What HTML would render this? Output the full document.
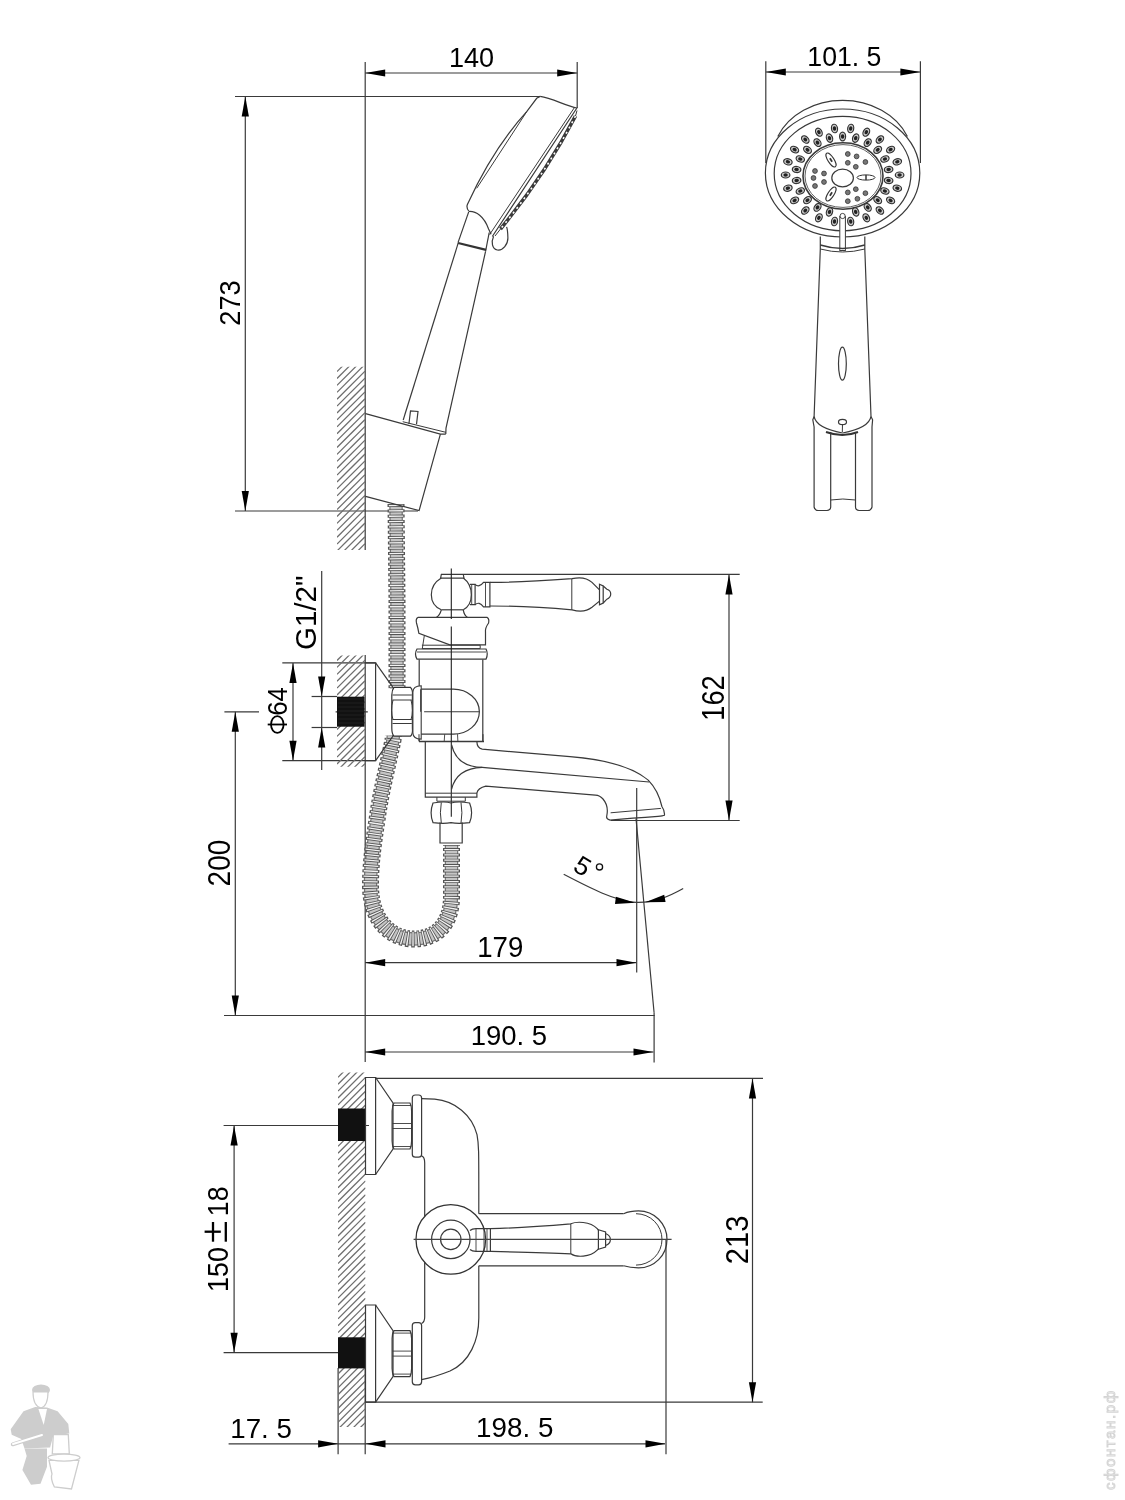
<!DOCTYPE html>
<html><head><meta charset="utf-8"><style>
html,body{margin:0;padding:0;background:#fff;}
svg{display:block;font-family:"Liberation Sans",sans-serif;will-change:transform;}
</style></head><body>
<svg width="1125" height="1500" viewBox="0 0 1125 1500">
<rect width="1125" height="1500" fill="#fff"/>
<line x1="365.2" y1="62.0" x2="365.2" y2="550.0" stroke="#3a3a3a" stroke-width="1.2"/>
<line x1="365.2" y1="655.0" x2="365.2" y2="1062.0" stroke="#3a3a3a" stroke-width="1.2"/>
<line x1="577.2" y1="62.0" x2="577.2" y2="108.0" stroke="#3a3a3a" stroke-width="1.2"/>
<line x1="365.2" y1="73.0" x2="577.2" y2="73.0" stroke="#3a3a3a" stroke-width="1.2"/>
<polygon points="365.2,73.0 385.2,69.4 385.2,76.6" fill="#000"/>
<polygon points="577.2,73.0 557.2,76.6 557.2,69.4" fill="#000"/>
<text transform="translate(448.97,66.73) scale(1.0126,1)" font-size="26.76" fill="#000">140</text>
<line x1="235.0" y1="96.5" x2="540.0" y2="96.5" stroke="#3a3a3a" stroke-width="1.2"/>
<line x1="235.0" y1="511.0" x2="418.0" y2="511.0" stroke="#3a3a3a" stroke-width="1.2"/>
<line x1="245.3" y1="96.5" x2="245.3" y2="511.0" stroke="#3a3a3a" stroke-width="1.2"/>
<polygon points="245.3,96.5 248.9,116.5 241.7,116.5" fill="#000"/>
<polygon points="245.3,511.0 241.7,491.0 248.9,491.0" fill="#000"/>
<text transform="translate(239.80,325.77) rotate(-90) scale(0.9066,1)" font-size="30.14" fill="#000">273</text>
<line x1="765.8" y1="61.3" x2="765.8" y2="163.0" stroke="#3a3a3a" stroke-width="1.2"/>
<line x1="920.4" y1="61.3" x2="920.4" y2="163.0" stroke="#3a3a3a" stroke-width="1.2"/>
<line x1="765.8" y1="72.0" x2="920.4" y2="72.0" stroke="#3a3a3a" stroke-width="1.2"/>
<polygon points="765.8,72.0 785.8,68.4 785.8,75.6" fill="#000"/>
<polygon points="920.4,72.0 900.4,75.6 900.4,68.4" fill="#000"/>
<text transform="translate(807.30,65.52) scale(0.9664,1)" font-size="27.61" fill="#000">101. 5</text>
<line x1="321.7" y1="571.0" x2="321.7" y2="770.0" stroke="#3a3a3a" stroke-width="1.2"/>
<polygon points="321.7,696.5 318.1,676.5 325.3,676.5" fill="#000"/>
<polygon points="321.7,727.5 325.3,747.5 318.1,747.5" fill="#000"/>
<line x1="311.6" y1="696.5" x2="337.0" y2="696.5" stroke="#3a3a3a" stroke-width="1.2"/>
<line x1="311.6" y1="727.5" x2="337.0" y2="727.5" stroke="#3a3a3a" stroke-width="1.2"/>
<text transform="translate(316.20,650.08) rotate(-90) scale(0.9771,1)" font-size="30.28" fill="#000">G1/2&quot;</text>
<line x1="282.3" y1="662.9" x2="375.6" y2="662.9" stroke="#3a3a3a" stroke-width="1.2"/>
<line x1="282.3" y1="760.7" x2="375.6" y2="760.7" stroke="#3a3a3a" stroke-width="1.2"/>
<line x1="293.0" y1="662.9" x2="293.0" y2="760.7" stroke="#3a3a3a" stroke-width="1.2"/>
<polygon points="293.0,662.9 296.6,682.9 289.4,682.9" fill="#000"/>
<polygon points="293.0,760.7 289.4,740.7 296.6,740.7" fill="#000"/>
<text transform="translate(286.73,715.79) rotate(-90) scale(0.9500,1)" font-size="27.18" fill="#000">64</text>
<ellipse cx="277.3" cy="724.5" rx="6.3" ry="8.4" stroke="#000" stroke-width="1.8" fill="none"/>
<line x1="267.7" y1="724.5" x2="287.0" y2="724.5" stroke="#000" stroke-width="1.8"/>
<line x1="224.4" y1="711.8" x2="259.0" y2="711.8" stroke="#3a3a3a" stroke-width="1.2"/>
<line x1="335.6" y1="711.8" x2="367.8" y2="711.8" stroke="#3a3a3a" stroke-width="1.2"/>
<line x1="224.0" y1="1015.5" x2="654.7" y2="1015.5" stroke="#3a3a3a" stroke-width="1.2"/>
<line x1="235.3" y1="711.8" x2="235.3" y2="1015.5" stroke="#3a3a3a" stroke-width="1.2"/>
<polygon points="235.3,711.8 238.9,731.8 231.7,731.8" fill="#000"/>
<polygon points="235.3,1015.5 231.7,995.5 238.9,995.5" fill="#000"/>
<text transform="translate(230.38,886.40) rotate(-90) scale(0.8738,1)" font-size="31.97" fill="#000">200</text>
<line x1="441.0" y1="574.4" x2="739.7" y2="574.4" stroke="#3a3a3a" stroke-width="1.2"/>
<line x1="611.0" y1="820.5" x2="739.7" y2="820.5" stroke="#3a3a3a" stroke-width="1.2"/>
<line x1="729.0" y1="574.4" x2="729.0" y2="820.5" stroke="#3a3a3a" stroke-width="1.2"/>
<polygon points="729.0,574.4 732.6,594.4 725.4,594.4" fill="#000"/>
<polygon points="729.0,820.5 725.4,800.5 732.6,800.5" fill="#000"/>
<text transform="translate(723.88,720.75) rotate(-90) scale(0.8644,1)" font-size="31.55" fill="#000">162</text>
<line x1="365.2" y1="962.7" x2="636.5" y2="962.7" stroke="#3a3a3a" stroke-width="1.2"/>
<polygon points="365.2,962.7 385.2,959.1 385.2,966.3" fill="#000"/>
<polygon points="636.5,962.7 616.5,966.3 616.5,959.1" fill="#000"/>
<line x1="636.7" y1="788.0" x2="636.7" y2="972.5" stroke="#3a3a3a" stroke-width="1.2"/>
<text transform="translate(477.23,957.00) scale(0.9213,1)" font-size="30.00" fill="#000">179</text>
<line x1="365.2" y1="1052.0" x2="653.5" y2="1052.0" stroke="#3a3a3a" stroke-width="1.2"/>
<polygon points="365.2,1052.0 385.2,1048.4 385.2,1055.6" fill="#000"/>
<polygon points="653.5,1052.0 633.5,1055.6 633.5,1048.4" fill="#000"/>
<line x1="636.0" y1="818.5" x2="654.1" y2="1012.8" stroke="#3a3a3a" stroke-width="1.2"/>
<line x1="654.1" y1="1012.8" x2="654.1" y2="1062.4" stroke="#3a3a3a" stroke-width="1.2"/>
<text transform="translate(470.64,1045.02) scale(0.9764,1)" font-size="28.17" fill="#000">190. 5</text>
<path d="M563.7,874.3 C590,888 615,901 636,902.3 C655,903 670,896 683.2,888.6" stroke="#3a3a3a" stroke-width="1.2" fill="none" />
<polygon points="635.3,902.7 615.0,903.9 615.9,896.7" fill="#000"/>
<polygon points="645.3,902.3 664.2,894.8 665.6,901.9" fill="#000"/>
<text transform="translate(582.4,866) rotate(31) translate(-7.2,8.9)" font-size="26" fill="#000">5</text>
<circle cx="599.5" cy="866.9" r="3.1" stroke="#111" stroke-width="1.3" fill="none"/>
<line x1="375.5" y1="1078.4" x2="763.0" y2="1078.4" stroke="#3a3a3a" stroke-width="1.2"/>
<line x1="365.5" y1="1402.2" x2="762.7" y2="1402.2" stroke="#3a3a3a" stroke-width="1.2"/>
<line x1="752.5" y1="1078.4" x2="752.5" y2="1402.2" stroke="#3a3a3a" stroke-width="1.2"/>
<polygon points="752.5,1078.4 756.1,1098.4 748.9,1098.4" fill="#000"/>
<polygon points="752.5,1402.2 748.9,1382.2 756.1,1382.2" fill="#000"/>
<text transform="translate(747.69,1264.16) rotate(-90) scale(0.9394,1)" font-size="30.99" fill="#000">213</text>
<line x1="223.6" y1="1125.5" x2="369.0" y2="1125.5" stroke="#3a3a3a" stroke-width="1.2"/>
<line x1="223.6" y1="1352.7" x2="338.0" y2="1352.7" stroke="#3a3a3a" stroke-width="1.2"/>
<line x1="234.1" y1="1125.5" x2="234.1" y2="1352.7" stroke="#3a3a3a" stroke-width="1.2"/>
<polygon points="234.1,1125.5 237.7,1145.5 230.5,1145.5" fill="#000"/>
<polygon points="234.1,1352.7 230.5,1332.7 237.7,1332.7" fill="#000"/>
<text transform="translate(228.00,1292.02) rotate(-90) scale(0.8968,1)" font-size="30.00" fill="#000">150</text>
<text transform="translate(228.00,1216.21) rotate(-90) scale(0.8945,1)" font-size="30.00" fill="#000">18</text>
<line x1="213.0" y1="1222.0" x2="213.0" y2="1241.7" stroke="#000" stroke-width="2.3"/>
<line x1="204.6" y1="1231.7" x2="220.8" y2="1231.7" stroke="#000" stroke-width="2.3"/>
<line x1="225.8" y1="1222.0" x2="225.8" y2="1241.7" stroke="#000" stroke-width="2.3"/>
<line x1="228.6" y1="1443.8" x2="665.0" y2="1443.8" stroke="#3a3a3a" stroke-width="1.2"/>
<polygon points="338.1,1443.8 318.1,1447.4 318.1,1440.2" fill="#000"/>
<polygon points="365.5,1443.8 385.5,1440.2 385.5,1447.4" fill="#000"/>
<line x1="338.1" y1="1368.0" x2="338.1" y2="1454.3" stroke="#3a3a3a" stroke-width="1.2"/>
<line x1="365.2" y1="1368.0" x2="365.2" y2="1454.3" stroke="#3a3a3a" stroke-width="1.2"/>
<text transform="translate(230.32,1437.82) scale(0.9875,1)" font-size="28.03" fill="#000">17. 5</text>
<polygon points="665.5,1443.8 645.5,1447.4 645.5,1440.2" fill="#000"/>
<line x1="666.0" y1="1239.0" x2="666.0" y2="1454.3" stroke="#3a3a3a" stroke-width="1.2"/>
<text transform="translate(476.12,1437.32) scale(1.0059,1)" font-size="27.61" fill="#000">198. 5</text>
<ellipse cx="41" cy="1390" rx="9" ry="5.5" fill="#cdcdcd"/>
<path d="M33,1392 Q33,1406 41,1408 Q48,1406 48,1392 Z" fill="#fff" stroke="#cdcdcd" stroke-width="1.2"/>
<polygon points="10.7,1429.3 23.5,1411.2 35.2,1407 47,1407.5 57.6,1411.2 68.3,1424 69.3,1433.6 53.3,1435.7 50.1,1447.5 24.5,1448.5 21.3,1439 11.7,1434.7" fill="#cdcdcd"/>
<polygon points="24.5,1448.5 47,1448.5 47,1466.7 40.5,1483.7 31,1484.8 22.4,1469.9 26.7,1456" fill="#cdcdcd"/>
<polygon points="38.4,1409 47,1409 43.7,1425" fill="#fff"/>
<path d="M12.8,1444.3 L42.7,1434.7" stroke="#cdcdcd" stroke-width="4" stroke-linecap="round"/><path d="M13,1444 L42,1435" stroke="#fff" stroke-width="2" stroke-linecap="round"/>
<path d="M53.3,1434.7 L68.3,1434.7 L69.3,1453.9 L52.3,1453.9 Z" fill="#fff" stroke="#cdcdcd" stroke-width="1.3"/>
<path d="M49,1460.3 L78.9,1460.3 L71.5,1489 L54.4,1487 Q50,1478 52,1474 Z" fill="#fff" stroke="#cdcdcd" stroke-width="1.3"/>
<ellipse cx="64" cy="1457.6" rx="16" ry="3.5" fill="#fff" stroke="#cdcdcd" stroke-width="1.3"/>
<text transform="translate(1115,1490) rotate(-90)" font-size="15" fill="#f4f4f4" stroke="#d4d4d4" stroke-width="0.9" textLength="99" lengthAdjust="spacing">сфонтан.рф</text>
<clipPath id="h97"><rect x="337" y="366.7" width="28" height="183.3"/></clipPath>
<g clip-path="url(#h97)" stroke="#6e6e6e" stroke-width="1.25"><line x1="337.0" y1="364.7" x2="365.0" y2="336.7"/><line x1="337.0" y1="371.6" x2="365.0" y2="343.6"/><line x1="337.0" y1="378.5" x2="365.0" y2="350.5"/><line x1="337.0" y1="385.4" x2="365.0" y2="357.4"/><line x1="337.0" y1="392.3" x2="365.0" y2="364.3"/><line x1="337.0" y1="399.2" x2="365.0" y2="371.2"/><line x1="337.0" y1="406.1" x2="365.0" y2="378.1"/><line x1="337.0" y1="413.0" x2="365.0" y2="385.0"/><line x1="337.0" y1="419.9" x2="365.0" y2="391.9"/><line x1="337.0" y1="426.8" x2="365.0" y2="398.8"/><line x1="337.0" y1="433.7" x2="365.0" y2="405.7"/><line x1="337.0" y1="440.6" x2="365.0" y2="412.6"/><line x1="337.0" y1="447.5" x2="365.0" y2="419.5"/><line x1="337.0" y1="454.4" x2="365.0" y2="426.4"/><line x1="337.0" y1="461.3" x2="365.0" y2="433.3"/><line x1="337.0" y1="468.2" x2="365.0" y2="440.2"/><line x1="337.0" y1="475.1" x2="365.0" y2="447.1"/><line x1="337.0" y1="482.0" x2="365.0" y2="454.0"/><line x1="337.0" y1="488.9" x2="365.0" y2="460.9"/><line x1="337.0" y1="495.8" x2="365.0" y2="467.8"/><line x1="337.0" y1="502.7" x2="365.0" y2="474.7"/><line x1="337.0" y1="509.6" x2="365.0" y2="481.6"/><line x1="337.0" y1="516.5" x2="365.0" y2="488.5"/><line x1="337.0" y1="523.4" x2="365.0" y2="495.4"/><line x1="337.0" y1="530.3" x2="365.0" y2="502.3"/><line x1="337.0" y1="537.2" x2="365.0" y2="509.2"/><line x1="337.0" y1="544.1" x2="365.0" y2="516.1"/><line x1="337.0" y1="551.0" x2="365.0" y2="523.0"/><line x1="337.0" y1="557.9" x2="365.0" y2="529.9"/><line x1="337.0" y1="564.8" x2="365.0" y2="536.8"/><line x1="337.0" y1="571.7" x2="365.0" y2="543.7"/><line x1="337.0" y1="578.6" x2="365.0" y2="550.6"/><line x1="337.0" y1="585.5" x2="365.0" y2="557.5"/><line x1="337.0" y1="592.4" x2="365.0" y2="564.4"/><line x1="337.0" y1="599.3" x2="365.0" y2="571.3"/><line x1="337.0" y1="606.2" x2="365.0" y2="578.2"/></g>
<clipPath id="h99"><rect x="337" y="655.6" width="28" height="111.10000000000002"/></clipPath>
<g clip-path="url(#h99)" stroke="#6e6e6e" stroke-width="1.25"><line x1="337.0" y1="653.6" x2="365.0" y2="625.6"/><line x1="337.0" y1="660.5" x2="365.0" y2="632.5"/><line x1="337.0" y1="667.4" x2="365.0" y2="639.4"/><line x1="337.0" y1="674.3" x2="365.0" y2="646.3"/><line x1="337.0" y1="681.2" x2="365.0" y2="653.2"/><line x1="337.0" y1="688.1" x2="365.0" y2="660.1"/><line x1="337.0" y1="695.0" x2="365.0" y2="667.0"/><line x1="337.0" y1="701.9" x2="365.0" y2="673.9"/><line x1="337.0" y1="708.8" x2="365.0" y2="680.8"/><line x1="337.0" y1="715.7" x2="365.0" y2="687.7"/><line x1="337.0" y1="722.6" x2="365.0" y2="694.6"/><line x1="337.0" y1="729.5" x2="365.0" y2="701.5"/><line x1="337.0" y1="736.4" x2="365.0" y2="708.4"/><line x1="337.0" y1="743.3" x2="365.0" y2="715.3"/><line x1="337.0" y1="750.2" x2="365.0" y2="722.2"/><line x1="337.0" y1="757.1" x2="365.0" y2="729.1"/><line x1="337.0" y1="764.0" x2="365.0" y2="736.0"/><line x1="337.0" y1="770.9" x2="365.0" y2="742.9"/><line x1="337.0" y1="777.8" x2="365.0" y2="749.8"/><line x1="337.0" y1="784.7" x2="365.0" y2="756.7"/><line x1="337.0" y1="791.6" x2="365.0" y2="763.6"/><line x1="337.0" y1="798.5" x2="365.0" y2="770.5"/><line x1="337.0" y1="805.4" x2="365.0" y2="777.4"/><line x1="337.0" y1="812.3" x2="365.0" y2="784.3"/><line x1="337.0" y1="819.2" x2="365.0" y2="791.2"/></g>
<clipPath id="h101"><rect x="338" y="1072.4" width="27.5" height="354.5999999999999"/></clipPath>
<g clip-path="url(#h101)" stroke="#6e6e6e" stroke-width="1.25"><line x1="338.0" y1="1070.4" x2="365.5" y2="1042.9"/><line x1="338.0" y1="1077.3" x2="365.5" y2="1049.8"/><line x1="338.0" y1="1084.2" x2="365.5" y2="1056.7"/><line x1="338.0" y1="1091.1" x2="365.5" y2="1063.6"/><line x1="338.0" y1="1098.0" x2="365.5" y2="1070.5"/><line x1="338.0" y1="1104.9" x2="365.5" y2="1077.4"/><line x1="338.0" y1="1111.8" x2="365.5" y2="1084.3"/><line x1="338.0" y1="1118.7" x2="365.5" y2="1091.2"/><line x1="338.0" y1="1125.6" x2="365.5" y2="1098.1"/><line x1="338.0" y1="1132.5" x2="365.5" y2="1105.0"/><line x1="338.0" y1="1139.4" x2="365.5" y2="1111.9"/><line x1="338.0" y1="1146.3" x2="365.5" y2="1118.8"/><line x1="338.0" y1="1153.2" x2="365.5" y2="1125.7"/><line x1="338.0" y1="1160.1" x2="365.5" y2="1132.6"/><line x1="338.0" y1="1167.0" x2="365.5" y2="1139.5"/><line x1="338.0" y1="1173.9" x2="365.5" y2="1146.4"/><line x1="338.0" y1="1180.8" x2="365.5" y2="1153.3"/><line x1="338.0" y1="1187.7" x2="365.5" y2="1160.2"/><line x1="338.0" y1="1194.6" x2="365.5" y2="1167.1"/><line x1="338.0" y1="1201.5" x2="365.5" y2="1174.0"/><line x1="338.0" y1="1208.4" x2="365.5" y2="1180.9"/><line x1="338.0" y1="1215.3" x2="365.5" y2="1187.8"/><line x1="338.0" y1="1222.2" x2="365.5" y2="1194.7"/><line x1="338.0" y1="1229.1" x2="365.5" y2="1201.6"/><line x1="338.0" y1="1236.0" x2="365.5" y2="1208.5"/><line x1="338.0" y1="1242.9" x2="365.5" y2="1215.4"/><line x1="338.0" y1="1249.8" x2="365.5" y2="1222.3"/><line x1="338.0" y1="1256.7" x2="365.5" y2="1229.2"/><line x1="338.0" y1="1263.6" x2="365.5" y2="1236.1"/><line x1="338.0" y1="1270.5" x2="365.5" y2="1243.0"/><line x1="338.0" y1="1277.4" x2="365.5" y2="1249.9"/><line x1="338.0" y1="1284.3" x2="365.5" y2="1256.8"/><line x1="338.0" y1="1291.2" x2="365.5" y2="1263.7"/><line x1="338.0" y1="1298.1" x2="365.5" y2="1270.6"/><line x1="338.0" y1="1305.0" x2="365.5" y2="1277.5"/><line x1="338.0" y1="1311.9" x2="365.5" y2="1284.4"/><line x1="338.0" y1="1318.8" x2="365.5" y2="1291.3"/><line x1="338.0" y1="1325.7" x2="365.5" y2="1298.2"/><line x1="338.0" y1="1332.6" x2="365.5" y2="1305.1"/><line x1="338.0" y1="1339.5" x2="365.5" y2="1312.0"/><line x1="338.0" y1="1346.4" x2="365.5" y2="1318.9"/><line x1="338.0" y1="1353.3" x2="365.5" y2="1325.8"/><line x1="338.0" y1="1360.2" x2="365.5" y2="1332.7"/><line x1="338.0" y1="1367.1" x2="365.5" y2="1339.6"/><line x1="338.0" y1="1374.0" x2="365.5" y2="1346.5"/><line x1="338.0" y1="1380.9" x2="365.5" y2="1353.4"/><line x1="338.0" y1="1387.8" x2="365.5" y2="1360.3"/><line x1="338.0" y1="1394.7" x2="365.5" y2="1367.2"/><line x1="338.0" y1="1401.6" x2="365.5" y2="1374.1"/><line x1="338.0" y1="1408.5" x2="365.5" y2="1381.0"/><line x1="338.0" y1="1415.4" x2="365.5" y2="1387.9"/><line x1="338.0" y1="1422.3" x2="365.5" y2="1394.8"/><line x1="338.0" y1="1429.2" x2="365.5" y2="1401.7"/><line x1="338.0" y1="1436.1" x2="365.5" y2="1408.6"/><line x1="338.0" y1="1443.0" x2="365.5" y2="1415.5"/><line x1="338.0" y1="1449.9" x2="365.5" y2="1422.4"/><line x1="338.0" y1="1456.8" x2="365.5" y2="1429.3"/><line x1="338.0" y1="1463.7" x2="365.5" y2="1436.2"/><line x1="338.0" y1="1470.6" x2="365.5" y2="1443.1"/><line x1="338.0" y1="1477.5" x2="365.5" y2="1450.0"/></g>
<path d="M396,504 L397,600 L397,690 L393,740 C388,765 381,790 377,820 C373,845 370.5,865 370.5,885 C370.5,925 395,939 413,939 C440,939 452,920 451.5,895 L451.5,845" stroke="#777" stroke-width="13.5" fill="none"/>
<path d="M396,504 L397,600 L397,690 L393,740 C388,765 381,790 377,820 C373,845 370.5,865 370.5,885 C370.5,925 395,939 413,939 C440,939 452,920 451.5,895 L451.5,845" stroke="#c4c4c4" stroke-width="11" fill="none"/>
<path d="M396,504 L397,600 L397,690 L393,740 C388,765 381,790 377,820 C373,845 370.5,865 370.5,885 C370.5,925 395,939 413,939 C440,939 452,920 451.5,895 L451.5,845" stroke="#555" stroke-width="17" fill="none" stroke-dasharray="3.0 2.33"/>
<path d="M396,504 L397,600 L397,690 L393,740 C388,765 381,790 377,820 C373,845 370.5,865 370.5,885 C370.5,925 395,939 413,939 C440,939 452,920 451.5,895 L451.5,845" stroke="#f2f2f2" stroke-width="14.4" fill="none" stroke-dasharray="1.3 4.03" stroke-dashoffset="-0.85"/>
<path d="M540.2,96.4 C552,98 566,106 576.9,108 L492.3,236.5" stroke="#3a3a3a" stroke-width="1.2" fill="none" />
<path d="M574.4,107.6 L489.6,234.6" stroke="#3a3a3a" stroke-width="1.0" fill="none" />
<path d="M540.2,96.4 L536.7,98.3 L526.7,111.7 C510,130 487,162 467.5,204.2 Q466,207.5 468.7,211" stroke="#3a3a3a" stroke-width="1.2" fill="none" />
<path d="M526.7,111.7 L476.7,188.3" stroke="#3a3a3a" stroke-width="1.0" fill="none" />
<path d="M575.5,116 Q545,175 500.5,229" stroke="#3a3a3a" stroke-width="3.6" fill="none" />
<path d="M575.5,116 Q545,175 500.5,229" stroke="#fff" stroke-width="1.6" fill="none" stroke-dasharray="2 4"/>
<path d="M577,110.5 L575.5,116 M500.5,229 L495,236" stroke="#3a3a3a" stroke-width="1.0" fill="none" />
<path d="M468.7,211.5 C476,211 484,216 488.6,229 L491.1,234.3" stroke="#3a3a3a" stroke-width="1.2" fill="none" />
<path d="M468.7,211.9 L458.1,242.4" stroke="#3a3a3a" stroke-width="1.2" fill="none" />
<path d="M489.2,232.5 L485.5,251.7" stroke="#3a3a3a" stroke-width="1.2" fill="none" />
<path d="M458.1,243 L486.1,249.9" stroke="#333" stroke-width="2.2" fill="none" />
<path d="M493.6,236.2 C491,242 492,249 497.3,250 C503,251 508,244 507.9,238 C507.8,232 507,228 506.6,226.9" stroke="#3a3a3a" stroke-width="1.2" fill="none" />
<path d="M458.4,242.4 L403.2,420" stroke="#3a3a3a" stroke-width="1.2" fill="none" />
<path d="M485.5,251.7 L446,428 L445.8,434.1" stroke="#3a3a3a" stroke-width="1.2" fill="none" />
<path d="M408.9,424 L410.5,411 L418,411.5 L416.5,424.3" stroke="#3a3a3a" stroke-width="1.2" fill="none" />
<path d="M365.5,413.7 L440.4,434.1 L445.8,434.1" stroke="#3a3a3a" stroke-width="1.2" fill="none" />
<path d="M402.7,421.7 L445.8,432.3" stroke="#3a3a3a" stroke-width="1.0" fill="none" />
<path d="M440.4,434.1 L419.1,510.6 L365.5,496.3" stroke="#3a3a3a" stroke-width="1.2" fill="none" />
<rect x="376.5" y="688.5" width="16" height="47" fill="#fff"/>
<path d="M365.6,662.9 L375.6,662.9 L375.6,760.7 L365.6,760.7" stroke="#3a3a3a" stroke-width="1.2" fill="none" />
<path d="M375.6,662.9 L393.3,687.8 M375.6,760.7 L393.3,735.6" stroke="#3a3a3a" stroke-width="1.2" fill="none" />
<rect x="337" y="696.7" width="27.5" height="30" fill="#111"/>
<line x1="338" y1="699" x2="364" y2="699" stroke="#333" stroke-width="0.5"/>
<line x1="338" y1="703" x2="364" y2="703" stroke="#333" stroke-width="0.5"/>
<line x1="338" y1="707" x2="364" y2="707" stroke="#333" stroke-width="0.5"/>
<line x1="338" y1="711" x2="364" y2="711" stroke="#333" stroke-width="0.5"/>
<line x1="338" y1="715" x2="364" y2="715" stroke="#333" stroke-width="0.5"/>
<line x1="338" y1="719" x2="364" y2="719" stroke="#333" stroke-width="0.5"/>
<line x1="338" y1="723" x2="364" y2="723" stroke="#333" stroke-width="0.5"/>
<path d="M394,687.3 L410.5,687.3 Q413,690 412.4,695 L412.4,728 Q413,734 410.5,736.2 L394,736.2 Q391.8,734 391.8,728 L391.8,695 Q391.8,690 394,687.3 Z" stroke="#333" stroke-width="1.2" fill="#fff" />
<path d="M392.5,695 L411.8,695 M392.5,700 L411.8,700 M392.5,719.5 L411.8,719.5 M392.5,723.5 L411.8,723.5" stroke="#3a3a3a" stroke-width="1.0" fill="none" />
<path d="M393,700 Q390,711 393,719.5 M411,700 Q414,711 411,719.5" stroke="#3a3a3a" stroke-width="1.0" fill="none" />
<path d="M441.3,574.5 L463.3,574.5 L464,578.1 L440.6,578.1 Z" stroke="#3a3a3a" stroke-width="1.2" fill="none" />
<path d="M441.3,578.1 C428,586 428,604 441.3,609.8 M463.3,578.1 C474,586 474,604 463.3,609.8" stroke="#3a3a3a" stroke-width="1.2" fill="none" />
<path d="M441.3,609.8 L463.3,609.8" stroke="#3a3a3a" stroke-width="1.2" fill="none" />
<path d="M441.3,609.8 Q440,615 436.3,617.4 M463.3,609.8 Q464,615 467.5,617.4" stroke="#3a3a3a" stroke-width="1.2" fill="none" />
<path d="M470,584.4 L475.1,584.4 L475.1,604.7 L470,604.7" stroke="#3a3a3a" stroke-width="1.2" fill="none" />
<path d="M475.1,584.4 Q479,588 483.5,582.3 L489.9,582.3 L489.9,606.8 L483.5,606.8 Q479,601 475.1,604.7" stroke="#3a3a3a" stroke-width="1.2" fill="none" />
<path d="M471.7,584.4 L471.7,604.7 M485.5,582.3 L485.5,606.8" stroke="#3a3a3a" stroke-width="0.9" fill="none" />
<path d="M489.9,582.4 C510,582.5 540,581 572.1,578.7 C578,577.4 586,577 592,582.4 L599.5,589.9" stroke="#3a3a3a" stroke-width="1.2" fill="none" />
<path d="M489.9,606 C510,606 540,607 572.1,609.8 C578,611.5 586,612 592,607.3 L599.5,601.1" stroke="#3a3a3a" stroke-width="1.2" fill="none" />
<path d="M571.8,578.9 L571.8,609.8" stroke="#3a3a3a" stroke-width="1.0" fill="none" />
<path d="M599.5,584.3 L603.2,586 L603.2,603 L599.5,604.8 Z" stroke="#3a3a3a" stroke-width="1.2" fill="none" />
<path d="M603.2,586 L606.9,589.3 C612,591 612,597 606.9,599.2 L603.2,603" stroke="#3a3a3a" stroke-width="1.2" fill="none" />
<path d="M418,617.4 L487,617.4 Q489.5,618.5 488.6,623 Q485,628 485.5,632 L485.5,644.8 L449.8,644.8 L418.9,633.4 Q418,628 416.5,623 Q415.5,618.5 418,617.4" stroke="#3a3a3a" stroke-width="1.2" fill="none" />
<path d="M424.4,635.1 L422.3,648.6" stroke="#3a3a3a" stroke-width="1.0" fill="none" />
<path d="M421.9,645.2 L480.2,645.2 L480.2,648.6 L421.9,648.6" stroke="#3a3a3a" stroke-width="1.0" fill="none" />
<path d="M417,649 L486,649 Q488.5,654 486,659.2 L417,659.2 Q414,654 417,649 Z" stroke="#3a3a3a" stroke-width="1.2" fill="none" />
<path d="M417,652 L486,652" stroke="#3a3a3a" stroke-width="0.9" fill="none" />
<path d="M419.2,659.4 L419.2,741 M482.8,659.4 L482.8,741" stroke="#3a3a3a" stroke-width="1.2" fill="none" />
<path d="M419.5,689.2 L453.4,689.2 A26,22.5 0 0 1 453.4,734.2 L419.5,734.2 Z" stroke="#3a3a3a" stroke-width="1.2" fill="#fff" stroke-linejoin="round"/>
<path d="M419.2,689.5 L419.2,734" stroke="#fff" stroke-width="2.2" fill="none" />
<path d="M421.2,685.8 Q413,686 412.9,692 L412.9,733 Q413,739 421.2,739.1 Z" stroke="#3a3a3a" stroke-width="1.1" fill="#fff" />
<path d="M424.1,711.7 L479.4,711.7 M420.7,689.2 L420.7,711.7" stroke="#3a3a3a" stroke-width="1.1" fill="none" />
<path d="M419,734.2 L419,741.5 M483,734.2 L483,741.5" stroke="#3a3a3a" stroke-width="1.0" fill="none" />
<path d="M444.7,734.2 L444.2,741.5 M457.5,734.2 L457.9,741.5" stroke="#3a3a3a" stroke-width="0.9" fill="none" />
<path d="M419,741.6 L484,741.6" stroke="#3a3a3a" stroke-width="1.5" fill="none" />
<path d="M451.3,568.4 L451.3,619 M451.3,626.6 L451.3,816.8" stroke="#222" stroke-width="1.1" fill="none" />
<path d="M425.3,741.7 L425.3,797.2 L476.9,797.2 L476.9,792.8" stroke="#3a3a3a" stroke-width="1.2" fill="none" />
<path d="M425.3,793.2 L476.9,793.2" stroke="#3a3a3a" stroke-width="1.0" fill="none" />
<path d="M476.9,741.7 Q477,748 482.2,749.2 L570,756.6 C600,759 630,765 648.2,780.1 C656,788 660,798 661.9,806.5 Q665,811 664.4,815.3 Q663,816 658,816.3 Q632,818 610.1,820.2 Q606,819 606.7,816.3 Q609,806 603,799 Q600,795.5 595.4,795.2 L485.8,786.1 Q478,788 476.9,792.8" stroke="#3a3a3a" stroke-width="1.2" fill="none" />
<path d="M451.6,744.8 C455,760 465,767 482.2,767.4 L649.2,782" stroke="#3a3a3a" stroke-width="1.2" fill="none" />
<path d="M451.6,789.2 C455,775 466,768 482.2,767.4" stroke="#3a3a3a" stroke-width="1.2" fill="none" />
<path d="M610.6,812.8 L660.9,808.4" stroke="#3a3a3a" stroke-width="1.0" fill="none" />
<path d="M436.9,797.2 L436.9,801.2 L465.3,801.2 L465.3,797.2" stroke="#3a3a3a" stroke-width="1.0" fill="none" />
<path d="M433,803 Q445,801 451,803 Q458,801 469.6,803 Q471.6,808 471.6,812.8 Q471.6,818 469.6,822.6 Q458,824 451,822.6 Q444,824 433,822.6 Q431.1,818 431.1,812.8 Q431.1,808 433,803 Z" stroke="#3a3a3a" stroke-width="1.2" fill="none" />
<path d="M441.3,802.5 Q439.5,812.8 441.3,823 M461,802.5 Q462.8,812.8 461,823" stroke="#3a3a3a" stroke-width="1.0" fill="none" />
<path d="M440,822.6 L440,843 L462.2,843 L462.2,822.6" stroke="#3a3a3a" stroke-width="1.2" fill="none" />
<path d="M777.8000000000001,136.4 A70,58 0 0 1 907.4,136.4" stroke="#3a3a3a" stroke-width="1.2" fill="none"/>
<ellipse cx="842.6" cy="173" rx="77.2" ry="64" stroke="#3a3a3a" stroke-width="1.2" fill="none"/>
<ellipse cx="842.6" cy="173.6" rx="68.4" ry="57.2" stroke="#3a3a3a" stroke-width="1.2" fill="none"/>
<ellipse cx="843" cy="176" rx="40" ry="33.2" stroke="#3a3a3a" stroke-width="1.6" fill="none"/>
<ellipse cx="843" cy="176" rx="38" ry="31.4" stroke="#3a3a3a" stroke-width="0.8" fill="none"/>
<ellipse cx="842.6" cy="178" rx="10.8" ry="8.8" stroke="#3a3a3a" stroke-width="1.2" fill="none"/>
<g transform="translate(850.7,128.5) rotate(-80)"><ellipse rx="4.3" ry="3.0" stroke="#333" stroke-width="1.2" fill="#ccc"/><ellipse rx="2.2" ry="1.7" fill="#222"/></g>
<g transform="translate(866.3,132.2) rotate(-61)"><ellipse rx="4.3" ry="3.0" stroke="#333" stroke-width="1.2" fill="#ccc"/><ellipse rx="2.2" ry="1.7" fill="#222"/></g>
<g transform="translate(879.9,139.5) rotate(-44)"><ellipse rx="4.3" ry="3.0" stroke="#333" stroke-width="1.2" fill="#ccc"/><ellipse rx="2.2" ry="1.7" fill="#222"/></g>
<g transform="translate(890.6,149.6) rotate(-28)"><ellipse rx="4.3" ry="3.0" stroke="#333" stroke-width="1.2" fill="#ccc"/><ellipse rx="2.2" ry="1.7" fill="#222"/></g>
<g transform="translate(897.3,161.8) rotate(-14)"><ellipse rx="4.3" ry="3.0" stroke="#333" stroke-width="1.2" fill="#ccc"/><ellipse rx="2.2" ry="1.7" fill="#222"/></g>
<g transform="translate(899.6,175.0) rotate(-0)"><ellipse rx="4.3" ry="3.0" stroke="#333" stroke-width="1.2" fill="#ccc"/><ellipse rx="2.2" ry="1.7" fill="#222"/></g>
<g transform="translate(897.3,188.2) rotate(14)"><ellipse rx="4.3" ry="3.0" stroke="#333" stroke-width="1.2" fill="#ccc"/><ellipse rx="2.2" ry="1.7" fill="#222"/></g>
<g transform="translate(890.6,200.4) rotate(28)"><ellipse rx="4.3" ry="3.0" stroke="#333" stroke-width="1.2" fill="#ccc"/><ellipse rx="2.2" ry="1.7" fill="#222"/></g>
<g transform="translate(879.9,210.5) rotate(44)"><ellipse rx="4.3" ry="3.0" stroke="#333" stroke-width="1.2" fill="#ccc"/><ellipse rx="2.2" ry="1.7" fill="#222"/></g>
<g transform="translate(866.3,217.8) rotate(61)"><ellipse rx="4.3" ry="3.0" stroke="#333" stroke-width="1.2" fill="#ccc"/><ellipse rx="2.2" ry="1.7" fill="#222"/></g>
<g transform="translate(850.7,221.5) rotate(80)"><ellipse rx="4.3" ry="3.0" stroke="#333" stroke-width="1.2" fill="#ccc"/><ellipse rx="2.2" ry="1.7" fill="#222"/></g>
<g transform="translate(834.5,221.5) rotate(100)"><ellipse rx="4.3" ry="3.0" stroke="#333" stroke-width="1.2" fill="#ccc"/><ellipse rx="2.2" ry="1.7" fill="#222"/></g>
<g transform="translate(818.9,217.8) rotate(119)"><ellipse rx="4.3" ry="3.0" stroke="#333" stroke-width="1.2" fill="#ccc"/><ellipse rx="2.2" ry="1.7" fill="#222"/></g>
<g transform="translate(805.3,210.5) rotate(136)"><ellipse rx="4.3" ry="3.0" stroke="#333" stroke-width="1.2" fill="#ccc"/><ellipse rx="2.2" ry="1.7" fill="#222"/></g>
<g transform="translate(794.6,200.4) rotate(152)"><ellipse rx="4.3" ry="3.0" stroke="#333" stroke-width="1.2" fill="#ccc"/><ellipse rx="2.2" ry="1.7" fill="#222"/></g>
<g transform="translate(787.9,188.2) rotate(166)"><ellipse rx="4.3" ry="3.0" stroke="#333" stroke-width="1.2" fill="#ccc"/><ellipse rx="2.2" ry="1.7" fill="#222"/></g>
<g transform="translate(785.6,175.0) rotate(180)"><ellipse rx="4.3" ry="3.0" stroke="#333" stroke-width="1.2" fill="#ccc"/><ellipse rx="2.2" ry="1.7" fill="#222"/></g>
<g transform="translate(787.9,161.8) rotate(-166)"><ellipse rx="4.3" ry="3.0" stroke="#333" stroke-width="1.2" fill="#ccc"/><ellipse rx="2.2" ry="1.7" fill="#222"/></g>
<g transform="translate(794.6,149.6) rotate(-152)"><ellipse rx="4.3" ry="3.0" stroke="#333" stroke-width="1.2" fill="#ccc"/><ellipse rx="2.2" ry="1.7" fill="#222"/></g>
<g transform="translate(805.3,139.5) rotate(-136)"><ellipse rx="4.3" ry="3.0" stroke="#333" stroke-width="1.2" fill="#ccc"/><ellipse rx="2.2" ry="1.7" fill="#222"/></g>
<g transform="translate(818.9,132.2) rotate(-119)"><ellipse rx="4.3" ry="3.0" stroke="#333" stroke-width="1.2" fill="#ccc"/><ellipse rx="2.2" ry="1.7" fill="#222"/></g>
<g transform="translate(834.5,128.5) rotate(-100)"><ellipse rx="4.3" ry="3.0" stroke="#333" stroke-width="1.2" fill="#ccc"/><ellipse rx="2.2" ry="1.7" fill="#222"/></g>
<g transform="translate(842.6,136.5) rotate(-90)"><ellipse rx="4.3" ry="3.0" stroke="#333" stroke-width="1.2" fill="#ccc"/><ellipse rx="2.2" ry="1.7" fill="#222"/></g>
<g transform="translate(855.7,138.1) rotate(-70)"><ellipse rx="4.3" ry="3.0" stroke="#333" stroke-width="1.2" fill="#ccc"/><ellipse rx="2.2" ry="1.7" fill="#222"/></g>
<g transform="translate(867.7,142.6) rotate(-52)"><ellipse rx="4.3" ry="3.0" stroke="#333" stroke-width="1.2" fill="#ccc"/><ellipse rx="2.2" ry="1.7" fill="#222"/></g>
<g transform="translate(877.7,149.8) rotate(-36)"><ellipse rx="4.3" ry="3.0" stroke="#333" stroke-width="1.2" fill="#ccc"/><ellipse rx="2.2" ry="1.7" fill="#222"/></g>
<g transform="translate(884.9,159.0) rotate(-21)"><ellipse rx="4.3" ry="3.0" stroke="#333" stroke-width="1.2" fill="#ccc"/><ellipse rx="2.2" ry="1.7" fill="#222"/></g>
<g transform="translate(888.6,169.5) rotate(-7)"><ellipse rx="4.3" ry="3.0" stroke="#333" stroke-width="1.2" fill="#ccc"/><ellipse rx="2.2" ry="1.7" fill="#222"/></g>
<g transform="translate(888.6,180.5) rotate(7)"><ellipse rx="4.3" ry="3.0" stroke="#333" stroke-width="1.2" fill="#ccc"/><ellipse rx="2.2" ry="1.7" fill="#222"/></g>
<g transform="translate(884.9,191.0) rotate(21)"><ellipse rx="4.3" ry="3.0" stroke="#333" stroke-width="1.2" fill="#ccc"/><ellipse rx="2.2" ry="1.7" fill="#222"/></g>
<g transform="translate(877.7,200.2) rotate(36)"><ellipse rx="4.3" ry="3.0" stroke="#333" stroke-width="1.2" fill="#ccc"/><ellipse rx="2.2" ry="1.7" fill="#222"/></g>
<g transform="translate(867.7,207.4) rotate(52)"><ellipse rx="4.3" ry="3.0" stroke="#333" stroke-width="1.2" fill="#ccc"/><ellipse rx="2.2" ry="1.7" fill="#222"/></g>
<g transform="translate(855.7,211.9) rotate(70)"><ellipse rx="4.3" ry="3.0" stroke="#333" stroke-width="1.2" fill="#ccc"/><ellipse rx="2.2" ry="1.7" fill="#222"/></g>
<g transform="translate(829.5,211.9) rotate(110)"><ellipse rx="4.3" ry="3.0" stroke="#333" stroke-width="1.2" fill="#ccc"/><ellipse rx="2.2" ry="1.7" fill="#222"/></g>
<g transform="translate(817.5,207.4) rotate(128)"><ellipse rx="4.3" ry="3.0" stroke="#333" stroke-width="1.2" fill="#ccc"/><ellipse rx="2.2" ry="1.7" fill="#222"/></g>
<g transform="translate(807.5,200.2) rotate(144)"><ellipse rx="4.3" ry="3.0" stroke="#333" stroke-width="1.2" fill="#ccc"/><ellipse rx="2.2" ry="1.7" fill="#222"/></g>
<g transform="translate(800.3,191.0) rotate(159)"><ellipse rx="4.3" ry="3.0" stroke="#333" stroke-width="1.2" fill="#ccc"/><ellipse rx="2.2" ry="1.7" fill="#222"/></g>
<g transform="translate(796.6,180.5) rotate(173)"><ellipse rx="4.3" ry="3.0" stroke="#333" stroke-width="1.2" fill="#ccc"/><ellipse rx="2.2" ry="1.7" fill="#222"/></g>
<g transform="translate(796.6,169.5) rotate(-173)"><ellipse rx="4.3" ry="3.0" stroke="#333" stroke-width="1.2" fill="#ccc"/><ellipse rx="2.2" ry="1.7" fill="#222"/></g>
<g transform="translate(800.3,159.0) rotate(-159)"><ellipse rx="4.3" ry="3.0" stroke="#333" stroke-width="1.2" fill="#ccc"/><ellipse rx="2.2" ry="1.7" fill="#222"/></g>
<g transform="translate(807.5,149.8) rotate(-144)"><ellipse rx="4.3" ry="3.0" stroke="#333" stroke-width="1.2" fill="#ccc"/><ellipse rx="2.2" ry="1.7" fill="#222"/></g>
<g transform="translate(817.5,142.6) rotate(-128)"><ellipse rx="4.3" ry="3.0" stroke="#333" stroke-width="1.2" fill="#ccc"/><ellipse rx="2.2" ry="1.7" fill="#222"/></g>
<g transform="translate(829.5,138.1) rotate(-110)"><ellipse rx="4.3" ry="3.0" stroke="#333" stroke-width="1.2" fill="#ccc"/><ellipse rx="2.2" ry="1.7" fill="#222"/></g>
<circle cx="847.8" cy="154" r="2.4" fill="#777" stroke="#333" stroke-width="0.8"/>
<circle cx="856.6" cy="156.4" r="2.4" fill="#777" stroke="#333" stroke-width="0.8"/>
<circle cx="865.4" cy="162" r="2.4" fill="#777" stroke="#333" stroke-width="0.8"/>
<circle cx="847.8" cy="162.8" r="2.4" fill="#777" stroke="#333" stroke-width="0.8"/>
<circle cx="855.8" cy="166.8" r="2.4" fill="#777" stroke="#333" stroke-width="0.8"/>
<circle cx="815" cy="171" r="2.4" fill="#777" stroke="#333" stroke-width="0.8"/>
<circle cx="824" cy="173.5" r="2.4" fill="#777" stroke="#333" stroke-width="0.8"/>
<circle cx="813.5" cy="178" r="2.4" fill="#777" stroke="#333" stroke-width="0.8"/>
<circle cx="824" cy="182" r="2.4" fill="#777" stroke="#333" stroke-width="0.8"/>
<circle cx="815" cy="186" r="2.4" fill="#777" stroke="#333" stroke-width="0.8"/>
<circle cx="847.8" cy="192.4" r="2.4" fill="#777" stroke="#333" stroke-width="0.8"/>
<circle cx="855.8" cy="189.2" r="2.4" fill="#777" stroke="#333" stroke-width="0.8"/>
<circle cx="865.4" cy="193.2" r="2.4" fill="#777" stroke="#333" stroke-width="0.8"/>
<circle cx="847.8" cy="201.2" r="2.4" fill="#777" stroke="#333" stroke-width="0.8"/>
<circle cx="857.4" cy="198.8" r="2.4" fill="#777" stroke="#333" stroke-width="0.8"/>
<g transform="translate(831,160) rotate(57)"><ellipse rx="8" ry="3" stroke="#333" stroke-width="1" fill="none"/><line x1="-2" y1="0" x2="2" y2="0" stroke="#333" stroke-width="1.8"/></g>
<g transform="translate(866,177.5)"><ellipse rx="9" ry="2.6" stroke="#333" stroke-width="1" fill="none"/><line x1="0" y1="-2.6" x2="0" y2="2.6" stroke="#333" stroke-width="1.5"/></g>
<g transform="translate(831,194) rotate(-57)"><ellipse rx="8" ry="3" stroke="#333" stroke-width="1" fill="none"/><line x1="-2" y1="0" x2="2" y2="0" stroke="#333" stroke-width="1.8"/></g>
<rect x="839.8" y="216.5" width="5.6" height="34" fill="#fff" stroke="#3a3a3a" stroke-width="1"/>
<circle cx="842.6" cy="216" r="2.6" stroke="#333" stroke-width="0.9" fill="#fff"/>
<path d="M820.3,236.5 L820.3,249 M864.8,236.5 L864.8,249" stroke="#3a3a3a" stroke-width="1.2" fill="none" />
<path d="M820.3,245 Q842.6,252 864.8,245" stroke="#3a3a3a" stroke-width="1.6" fill="none" />
<path d="M820.3,249 Q842.6,255 864.8,249" stroke="#3a3a3a" stroke-width="1.0" fill="none" />
<path d="M820.3,249 L814.1,416.4 M864.8,249 L871,416.4" stroke="#3a3a3a" stroke-width="1.2" fill="none" />
<path d="M814.1,416.4 Q816,428 842.6,433 Q869,428 871,416.4" stroke="#3a3a3a" stroke-width="1.2" fill="none" />
<ellipse cx="842.4" cy="363.7" rx="3.9" ry="16.5" stroke="#3a3a3a" stroke-width="1.2" fill="none"/>
<ellipse cx="842.5" cy="422" rx="4" ry="2.6" stroke="#3a3a3a" stroke-width="1.2" fill="none"/>
<path d="M842.5,424.6 L842.3,432" stroke="#3a3a3a" stroke-width="1.0" fill="none" />
<path d="M826,432 Q842.6,438 858,432" stroke="#333" stroke-width="2.0" fill="none" />
<path d="M814.1,416.4 L812.8,419.8 L814.1,427 L814.1,507 Q815,510.5 818,510.5 L827,510.5 Q830.7,510 830.7,507 L830.7,432" stroke="#3a3a3a" stroke-width="1.2" fill="none" />
<path d="M871,416.4 L872.6,419.8 L872,427 L872,507 Q871,510.5 868,510.5 L859,510.5 Q855.5,510 855.5,507 L855.5,432" stroke="#3a3a3a" stroke-width="1.2" fill="none" />
<path d="M830.7,500 Q842.6,498 855.5,500" stroke="#3a3a3a" stroke-width="1.0" fill="none" />
<rect x="338" y="1108.5" width="27.5" height="32.5" fill="#111"/>
<rect x="338" y="1337.3" width="27.5" height="31.1" fill="#111"/>
<path d="M365.5,1077.5 L375.6,1077.5 L375.6,1174.5 L365.5,1174.5 Z" stroke="#3a3a3a" stroke-width="1.2" fill="none" />
<path d="M375.6,1077.5 L393,1103.0 L393,1149.0 L375.6,1174.5" stroke="#3a3a3a" stroke-width="1.2" fill="none" />
<path d="M394,1103.0 L410,1103.0 Q411.6,1106.0 411.6,1111.0 L411.6,1141.0 Q411.6,1146.0 410,1149.0 L394,1149.0 Q392.1,1146.0 392.1,1141.0 L392.1,1111.0 Q392.1,1106.0 394,1103.0 Z" stroke="#3a3a3a" stroke-width="1.2" fill="none" />
<path d="M392.5,1123.5 L411.2,1123.5 M392.5,1128.5 L411.2,1128.5 M392.5,1105.5 L411.2,1105.5 M392.5,1146.5 L411.2,1146.5" stroke="#3a3a3a" stroke-width="0.9" fill="none" />
<rect x="412.3" y="1095.0" width="9.3" height="62.2" rx="3" stroke="#3a3a3a" stroke-width="1.2" fill="none"/>
<path d="M365.5,1305 L375.6,1305 L375.6,1402.2 L365.5,1402.2 Z" stroke="#3a3a3a" stroke-width="1.2" fill="none" />
<path d="M375.6,1305 L393,1330.6 L393,1376.6 L375.6,1402.2" stroke="#3a3a3a" stroke-width="1.2" fill="none" />
<path d="M394,1330.6 L410,1330.6 Q411.6,1333.6 411.6,1338.6 L411.6,1368.6 Q411.6,1373.6 410,1376.6 L394,1376.6 Q392.1,1373.6 392.1,1368.6 L392.1,1338.6 Q392.1,1333.6 394,1330.6 Z" stroke="#3a3a3a" stroke-width="1.2" fill="none" />
<path d="M392.5,1351.1 L411.2,1351.1 M392.5,1356.1 L411.2,1356.1 M392.5,1333.1 L411.2,1333.1 M392.5,1374.1 L411.2,1374.1" stroke="#3a3a3a" stroke-width="0.9" fill="none" />
<rect x="412.3" y="1322.6" width="9.3" height="62.2" rx="3" stroke="#3a3a3a" stroke-width="1.2" fill="none"/>
<path d="M421.6,1098.6 L434.7,1099.2 C455,1101 472,1115 477,1134.7 C479,1145 478.8,1150 478.8,1213.7" stroke="#3a3a3a" stroke-width="1.2" fill="none" />
<path d="M478.8,1265.8 L478.8,1318 C478.8,1340 470,1362 450,1371 C440,1375 430,1378 421.6,1379.6" stroke="#3a3a3a" stroke-width="1.2" fill="none" />
<path d="M421.6,1155.9 Q424.7,1157 424.7,1163 L424.7,1317 Q424.7,1322 421.6,1323.5" stroke="#3a3a3a" stroke-width="1.2" fill="none" />
<circle cx="450.8" cy="1239.4" r="34.8" stroke="#333" stroke-width="1.3" fill="#fff"/>
<circle cx="450.8" cy="1239.4" r="19.2" stroke="#3a3a3a" stroke-width="1.2" fill="none"/>
<circle cx="450.8" cy="1239.4" r="10.2" stroke="#3a3a3a" stroke-width="1.2" fill="none"/>
<path d="M478.8,1213.7 L623.6,1213.7 M478.8,1265.8 L623.6,1265.8" stroke="#3a3a3a" stroke-width="1.2" fill="none" />
<path d="M623.6,1213.7 Q630,1210.9 638.5,1210.9 A28.5,28.5 0 0 1 638.5,1267.9 Q630,1267.9 623.6,1265.8" stroke="#3a3a3a" stroke-width="1.2" fill="none" />
<path d="M636,1213.7 A26,25.7 0 0 1 636,1265.1" stroke="#3a3a3a" stroke-width="1.0" fill="none" />
<path d="M470,1230.5 Q472,1228.6 476,1228.6 L490.4,1228.6 L490.4,1251.4 L476,1251.4 Q472,1251.4 470,1249.5" stroke="#3a3a3a" stroke-width="1.2" fill="none" />
<path d="M476,1228.6 L476,1251.4 M484,1228.6 L484,1251.4 M487,1228.6 L487,1251.4" stroke="#3a3a3a" stroke-width="0.9" fill="none" />
<path d="M490.4,1228.6 C520,1228 545,1226 570.8,1223.8 C576,1221.5 590,1221 597.2,1228.6 L598.4,1230" stroke="#3a3a3a" stroke-width="1.2" fill="none" />
<path d="M490.4,1251.4 C520,1252 545,1252.5 570.8,1253.8 C576,1257.5 590,1257.5 597.2,1250.2 L598.4,1249" stroke="#3a3a3a" stroke-width="1.2" fill="none" />
<path d="M570.8,1223.8 L570.8,1253.8" stroke="#3a3a3a" stroke-width="1.0" fill="none" />
<path d="M598.4,1229.8 L605.6,1232 L605.6,1247 L598.4,1249.2 Z" stroke="#3a3a3a" stroke-width="1.2" fill="none" />
<path d="M605.6,1233.5 C612,1236 612,1243 605.6,1245.5" stroke="#3a3a3a" stroke-width="1.2" fill="none" />
<path d="M413.6,1239.4 L671.6,1239.4" stroke="#444" stroke-width="1.1" fill="none" />
</svg></body></html>
